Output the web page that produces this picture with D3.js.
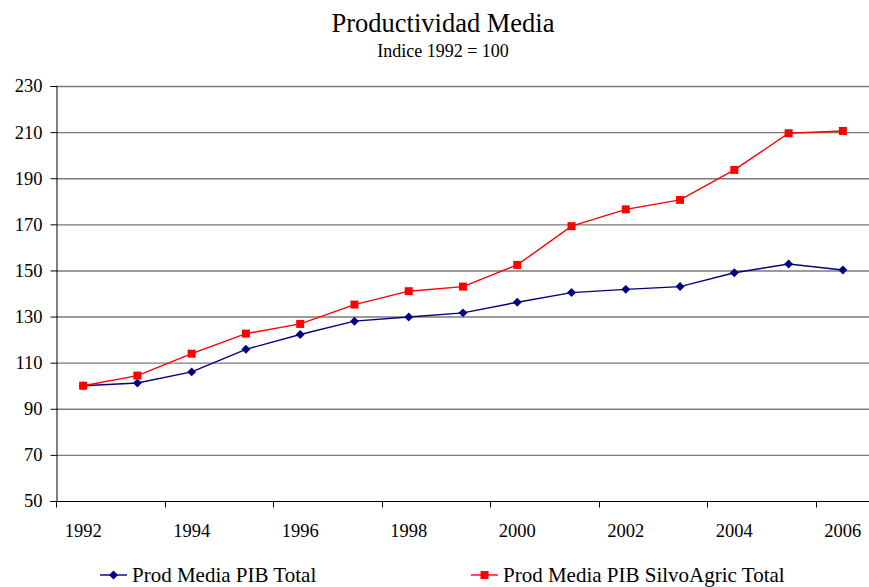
<!DOCTYPE html>
<html><head><meta charset="utf-8">
<script src="https://cdn.jsdelivr.net/npm/d3@7"></script>
<style>body{margin:0;background:#fff}svg{display:block}</style>
</head><body>
<svg id="c" width="869" height="587"></svg>
<script>
const years = [1992,1993,1994,1995,1996,1997,1998,1999,2000,2001,2002,2003,2004,2005,2006];
const pibTotal = [100,101.2,106,115.8,122.2,128,129.8,131.6,136.2,140.4,141.8,143,149,152.8,150.2];
const silvoAgric = [100,104.4,113.9,122.6,126.8,135.2,141,143,152.4,169.2,176.5,180.6,193.6,209.5,210.5];
const yTicks = [50,70,90,110,130,150,170,190,210,230];
const seriesNames = ["Prod Media PIB Total","Prod Media PIB SilvoAgric Total"];
const colors = ["#000080","#FF0000"];
const FONT = "'Liberation Serif', serif";

const svg = d3.select("#c");
const L=56, R=870, T=86, B=501;
const x = d3.scaleBand().domain(years).range([L,R]);
const y = d3.scaleLinear().domain([50,230]).range([B,T]);

svg.append("text").attr("x",443).attr("y",32).attr("text-anchor","middle").style("font-size","26.5px").text("Productividad Media");
svg.append("text").attr("x",443).attr("y",57).attr("text-anchor","middle").style("font-size","18px").text("Indice 1992 = 100");

// gridlines
svg.append("g").selectAll("line").data(yTicks.filter(d=>d>50)).join("line")
  .attr("x1",L).attr("x2",R).attr("y1",d=>y(d)+0.5).attr("y2",d=>y(d)+0.5)
  .attr("stroke","#7a7a7a").attr("stroke-width",1.4);

// y axis
const ya = svg.append("g").attr("transform",`translate(${L+0.5},0)`)
  .call(d3.axisLeft(y).tickValues(yTicks).tickSize(6).tickPadding(8));
ya.attr("font-family",null).attr("font-size",null);
ya.select(".domain").attr("stroke","#000");
ya.selectAll(".tick line").attr("stroke","#000");
ya.selectAll("text").style("font-size","18.5px");

// x axis
const xa = svg.append("g").attr("transform",`translate(0,${B+0.5})`);
xa.append("line").attr("x1",L).attr("x2",R).attr("stroke","#000");
const tickYears = years.filter((d,i)=>i%2===0);
xa.selectAll("line.t").data(tickYears).join("line").attr("class","t")
  .attr("x1",d=>Math.round(x(d))+0.5).attr("x2",d=>Math.round(x(d))+0.5).attr("y1",0).attr("y2",6).attr("stroke","#000");
xa.selectAll("text").data(tickYears).join("text")
  .attr("x",d=>x(d)+x.bandwidth()/2).attr("y",35).attr("text-anchor","middle").style("font-size","18.5px").text(d=>d);

const cx = d=>x(d)+x.bandwidth()/2;
const line = d3.line().x((d,i)=>cx(years[i])).y(d=>y(d));
const rhombus = {draw(ctx,size){const r=Math.sqrt(size/2);ctx.moveTo(0,-r);ctx.lineTo(r,0);ctx.lineTo(0,r);ctx.lineTo(-r,0);ctx.closePath();}};
const diamond = d3.symbol().type(rhombus).size(40);
const square = d3.symbol().type(d3.symbolSquare).size(64);

[pibTotal, silvoAgric].forEach((s,k)=>{
  svg.append("path").datum(s).attr("d",line).attr("fill","none").attr("stroke",colors[k]).attr("stroke-width",1.4);
  svg.append("g").selectAll("path").data(s).join("path")
    .attr("transform",(d,i)=>`translate(${cx(years[i])},${y(d)})`)
    .attr("d",k===0?diamond:square).attr("fill",colors[k]);
});

// legend
const lg = [{x:100,tx:132},{x:471,tx:503}];
lg.forEach((p,k)=>{
  const ly=575;
  svg.append("line").attr("x1",p.x).attr("x2",p.x+27).attr("y1",ly).attr("y2",ly).attr("stroke",colors[k]).attr("stroke-width",1.4);
  svg.append("path").attr("transform",`translate(${p.x+13.5},${ly})`).attr("d",k===0?diamond:square).attr("fill",colors[k]);
  svg.append("text").attr("x",p.tx).attr("y",ly+7).style("font-size","21px").text(seriesNames[k]);
});
svg.selectAll("text").style("font-family",FONT).attr("fill","#000");
</script>
</body></html>
